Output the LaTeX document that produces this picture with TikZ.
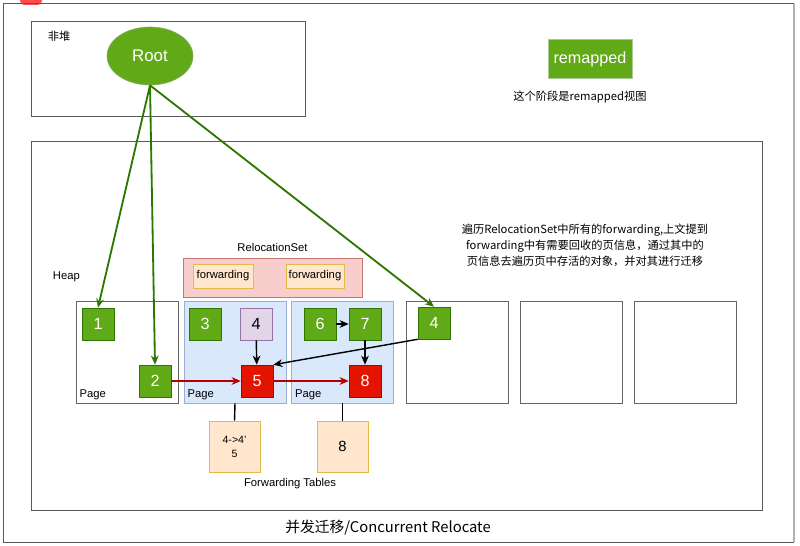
\documentclass[tikz,border=0pt]{standalone}
\usepackage{fontspec}
\setmainfont{Liberation Sans}
\newfontfamily\cjk{Noto Sans CJK SC}
\usetikzlibrary{arrows.meta,shapes.geometric}

\definecolor{objgreen}{HTML}{60A917}
\definecolor{objgreenline}{HTML}{2D7600}
\definecolor{objred}{HTML}{E51400}
\definecolor{objredline}{HTML}{B20000}
\definecolor{objpurple}{HTML}{E1D5E7}
\definecolor{objpurpleline}{HTML}{9673A6}
\definecolor{pageblue}{HTML}{DAE8FC}
\definecolor{pageblueline}{HTML}{6C8EBF}
\definecolor{setpink}{HTML}{F8CECC}
\definecolor{setpinkline}{HTML}{B85450}
\definecolor{tableorange}{HTML}{FFE6CC}
\definecolor{tableorangeline}{HTML}{D79B00}

\begin{document}
\begin{tikzpicture}[
  x=0.025cm, y=-0.025cm,
  >={Stealth[length=6.5pt,width=5.5pt]},
  every node/.style={font=\fontsize{8}{10}\selectfont},
  frame/.style={draw=black!65, line width=0.6pt},
  obj/.style={draw, minimum size=0.8cm, inner sep=0pt, font=\fontsize{11.5}{13}\selectfont},
  greenobj/.style={obj, fill=objgreen, draw=objgreenline, text=white},
  redobj/.style={obj, fill=objred, draw=objredline, text=white},
  purpleobj/.style={obj, fill=objpurple, draw=objpurpleline},
  pagebox/.style={draw=black!60, minimum size=2.55cm, inner sep=0pt},
  bluepage/.style={pagebox, fill=pageblue, draw=pageblueline!70},
  pagelabel/.style={anchor=south west, inner sep=2.5pt},
  fwbox/.style={draw=tableorangeline!70, fill=tableorange, minimum width=1.5cm, minimum height=0.6cm, inner sep=0pt},
  fwtable/.style={draw=tableorangeline!70, fill=tableorange, minimum size=1.275cm, inner sep=0pt, align=center},
  rootref/.style={->, objgreenline, line width=1.3pt},
  moveref/.style={->, objredline, line width=0.9pt},
  plainref/.style={->, black, line width=1pt}
]
\useasboundingbox (0,0) rectangle (800,545);

% frames
\fill[red!70, rounded corners=3pt] (20,-10) rectangle (42,5);
\draw[frame] (3,3) rectangle (793,542);
\draw[black!30, line width=1.2pt] (794,4) -- (794,542);
\draw[frame] (31,21) rectangle (305,116);
\draw[frame] (31,141) rectangle (762,510);

\node (nonheap) at (59,36) {\cjk 非堆};
\node (heap) [anchor=west] at (48,277) {Heap};

% root
\node[ellipse, fill=objgreen, draw=objgreenline!60, text=white,
  minimum width=2.15cm, minimum height=1.45cm,
  font=\fontsize{12}{14}\selectfont] (root) at (150,56) {Root};

% legend
\node[fill=objgreen, draw=objgreenline!40, text=white, minimum width=2.1cm,
  minimum height=0.97cm, font=\fontsize{11.5}{13}\selectfont] (remapped) at (590,59) {remapped};
\node (view) at (580,97) {\cjk 这个阶段是remapped视图};

\node[align=center, font=\cjk\fontsize{8}{11.4}\selectfont] (note) at (585,245)
  {遍历RelocationSet中所有的forwarding,上文提到\\
   forwarding中有需要回收的页信息，通过其中的\\
   页信息去遍历页中存活的对象，并对其进行迁移};

% relocation set
\node[draw=setpinkline!80, fill=setpink, minimum width=4.475cm,
  minimum height=0.975cm] (rs) at (272.5,277.5) {};
\node[above=1pt] (rslabel) at (rs.north) {RelocationSet};
\node[fwbox] (fw1) at (223,276) {forwarding};
\node[fwbox, minimum width=1.45cm] (fw2) at (315,276) {forwarding};

% pages
\node[pagebox] (p1) at (127,352) {};
\node[bluepage] (p2) at (235,352) {};
\node[bluepage] (p3) at (342.5,352) {};
\node[pagebox] (p4) at (457,352) {};
\node[pagebox] (p5) at (571,352) {};
\node[pagebox] (p6) at (685,352) {};
\node[pagelabel] at (p1.south west) {Page};
\node[pagelabel] at (p2.south west) {Page};
\node[pagelabel] at (p3.south west) {Page};

% objects
\node[greenobj] (o1) at (98,324) {1};
\node[greenobj] (o2) at (155,381) {2};
\node[greenobj] (o3) at (205,324) {3};
\node[purpleobj] (o4) at (256,324) {4};
\node[redobj] (o5) at (257,381) {5};
\node[greenobj] (o6) at (320,324) {6};
\node[greenobj] (o7) at (365,324) {7};
\node[redobj] (o8) at (365,381) {8};
\node[greenobj] (n4) at (434,323) {4};

% forwarding tables
\node[fwtable, font=\fontsize{7.5}{10}\selectfont] (ft1) at (234.5,446.5) {4->4'\\5};
\node[fwtable, font=\fontsize{10.5}{12}\selectfont] (ft2) at (342.5,446.5) {8};
\node (ftlabel) at (290,484) {Forwarding Tables};
\draw[line width=1pt] (p2.south) -- (ft1.north);
\draw[line width=1pt] (p3.south) -- (ft2.north);

% references
\draw[rootref] (root.south) -- (o1.north);
\draw[rootref] (root.south) -- (o2.north);
\draw[rootref] (root.south) -- (n4.north);
\draw[moveref] (o2) -- (o5);
\draw[moveref] (o5) -- (o8);
\draw[plainref] (o4) -- (o5);
\draw[plainref] (o6) -- (o7);
\draw[plainref] (o7) -- (o8);
\draw[plainref] (n4.south west) -- (o5.north east);

\node[font=\cjk\fontsize{10.5}{12}\selectfont] (caption) at (388,528) {并发迁移/Concurrent Relocate};
\end{tikzpicture}
\end{document}
